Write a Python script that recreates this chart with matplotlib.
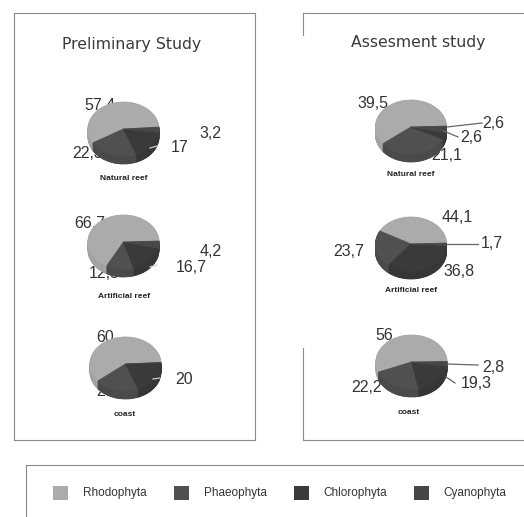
import matplotlib
matplotlib.use("Agg")
import matplotlib.pyplot as plt
from matplotlib.patches import Rectangle
import numpy as np

# ---- data -------------------------------------------------------------
categories = ["Rhodophyta", "Phaeophyta", "Chlorophyta", "Cyanophyta"]
studies = ["Preliminary Study", "Assesment study"]
sites = ["Natural reef", "Artificial reef", "coast"]

prelim_natural = [57.4, 22.3, 17, 3.2]
prelim_artificial = [66.7, 12.5, 16.7, 4.2]
prelim_coast = [60, 20, 20, 0]
assess_natural = [39.5, 21.1, 2.6, 2.6]
assess_artificial = [44.1, 23.7, 36.8, 1.7]
assess_coast = [56, 22.2, 19.3, 2.8]

# ---- styling ----------------------------------------------------------
colors = ["#ababab", "#505050", "#3a3a3a", "#474747"]
side_colors = ["#a2a2a2", "#4a4a4a", "#363636", "#424242"]
text_col = "#333333"
frame_col = "#8a8a8a"

W, H = 524, 517
fig = plt.figure(figsize=(W / 100, H / 100), dpi=100)
fig.patch.set_facecolor("white")

# background axes in pixel units for frames, titles and legend
bg = fig.add_axes([0, 0, 1, 1])
bg.set_xlim(0, W)
bg.set_ylim(H, 0)
bg.axis("off")

def seg(x0, y0, x1, y1):
    bg.plot([x0, x1], [y0, y1], color=frame_col, lw=0.8)

# panel frames
seg(14, 13, 255, 13); seg(14, 440, 255, 440)
seg(14, 13, 14, 440); seg(255, 13, 255, 440)
seg(303, 13, 524, 13); seg(303, 440, 524, 440)
seg(303, 13, 303, 35); seg(303, 348, 303, 440)
# legend frame
seg(26, 465, 524, 465); seg(26, 465, 26, 517)

# titles
title_pos = [(131.5, 45), (418, 42)]
for t, (x, y) in zip(studies, title_pos):
    bg.text(x, y, t, ha="center", va="center", fontsize=11.3,
            family="DejaVu Sans", color="#3a3a3a")

# legend
legend_sq = [53, 174, 294, 414]
legend_tx = [83, 204, 323, 443]
for c, col, sx, tx in zip(categories, colors, legend_sq, legend_tx):
    bg.add_patch(Rectangle((sx, 486), 15, 14, facecolor=col, edgecolor="none"))
    bg.text(tx, 493, c, ha="left", va="center", fontsize=8.5,
            family="Liberation Sans", color=text_col)

# ---- pies -------------------------------------------------------------
RX, RY, DEPTH = 35.5, 27.0, 8.0

pies = [
    dict(vals=prelim_natural, site=sites[0], center=(123.5, 129), start=4,
         labels=[(100, 105), (88, 153), (180, 147), (210, 133)],
         sub=(124, 178), leaders=[((150, 148), (157, 146), "#cfcfcf")]),
    dict(vals=prelim_artificial, site=sites[1], center=(123.5, 242), start=2,
         labels=[(90, 224), (104, 273), (191, 267), (211, 252)],
         sub=(124, 296), leaders=[((150, 267), (157, 265), "#cfcfcf")]),
    dict(vals=prelim_coast, site=sites[2], center=(125.5, 364), start=3,
         labels=[(105, 338), (105, 392), (184, 380), None],
         sub=(125, 415), leaders=[((153, 379), (160, 378), "#cfcfcf")]),
    dict(vals=assess_natural, site=sites[0], center=(411, 127), start=2,
         labels=[(373, 103), (447, 156), (471, 138), (493, 123)],
         sub=(411, 175), leaders=[((447, 127), (482, 123), "#666666"),
                                  ((444, 131), (458, 137), "#666666")]),
    dict(vals=assess_artificial, site=sites[1], center=(411, 244), start=2,
         labels=[(457, 218), (349, 252), (459, 272), (492, 243)],
         sub=(411, 291), leaders=[((447, 244), (478, 244), "#666666")]),
    dict(vals=assess_coast, site=sites[2], center=(411.5, 362), start=1,
         labels=[(384, 335), (367, 388), (476, 383), (493, 367)],
         sub=(409, 413), leaders=[((447, 364), (478, 365), "#666666"),
                                  ((446, 377), (455, 383), "#666666")]),
]

def fmt(v):
    return f"{v:g}".replace(".", ",")

def draw_pie(ax, vals, cols, start, dy):
    wedges, _ = ax.pie(vals, colors=cols, startangle=start, counterclock=True,
                       center=(0, dy), radius=1, wedgeprops=dict(linewidth=0.6))
    for w, c in zip(wedges, cols):
        w.set_edgecolor(c)
    return wedges

for p in pies:
    cx, cy = p["center"]
    ax = fig.add_axes([(cx - RX) / W, 1 - (cy + RY + DEPTH) / H,
                       2 * RX / W, (2 * RY + DEPTH) / H])
    ax.patch.set_visible(False)

    # extruded side of the pie, then the top face
    for d in np.linspace(DEPTH, 0.5, 16):
        draw_pie(ax, p["vals"], side_colors, p["start"], -d / RY)
    draw_pie(ax, p["vals"], colors, p["start"], 0)
    ax.set_xlim(-1, 1)
    ax.set_ylim(-1 - DEPTH / RY, 1)
    ax.set_aspect("auto")
    ax.axis("off")

    def to_data(px, py):
        return (px - cx) / RX, (cy - py) / RY

    for v, pos in zip(p["vals"], p["labels"]):
        if pos is None:
            continue
        x, y = to_data(*pos)
        ax.text(x, y, fmt(v), ha="center", va="center", fontsize=11.5,
                family="Liberation Sans", color=text_col, zorder=0.5)

    for (a, b, col) in p["leaders"]:
        x0, y0 = to_data(*a)
        x1, y1 = to_data(*b)
        ax.plot([x0, x1], [y0, y1], color=col, lw=0.9, clip_on=False, zorder=3)

    sx, sy = p["sub"]
    bg.text(sx, sy, p["site"], ha="center", va="center", fontsize=6,
            fontweight="bold", family="Liberation Sans", color="#222222")

fig.savefig("out.png", dpi=100, facecolor="white")
